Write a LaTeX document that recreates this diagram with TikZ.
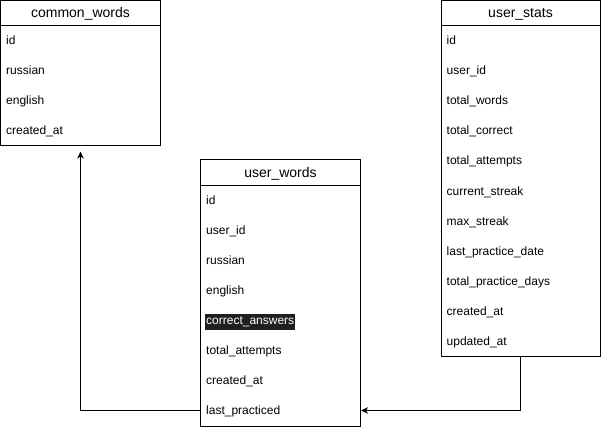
\documentclass[tikz,border=0pt]{standalone}
\usepackage{fontspec}
\setmainfont{Liberation Sans}
\usetikzlibrary{arrows.meta,calc,positioning}
\tikzset{
    tablebox/.style={draw, line width=1pt, inner sep=0pt},
    headtext/.style={font=\fontsize{14}{16}\selectfont},
    fieldtext/.style={anchor=west, inner xsep=1pt, inner ysep=2pt, text height=9pt, text depth=3pt, font=\fontsize{12}{14}\selectfont},
    marked/.style={fill=black!88, text=white},
    link/.style={line width=1pt, -{Stealth[length=7pt,width=6.5pt,inset=2pt]}}
}

\begin{document}
\begin{tikzpicture}[x=1pt,y=-1pt]
    \useasboundingbox (0,0) rectangle (601,430);

    % Draw common_words table.
    \node[tablebox, minimum width=160pt, minimum height=145.5pt] (cw) at (80.5,73.25) {};
    \node[headtext] (cwh) at ($(cw.north)+(0,14)$) {common\_words};
    \draw[line width=1pt] ($(cw.north west)+(0,26)$) -- ($(cw.north east)+(0,26)$);
    \foreach \F [count=\i] in {id,russian,english,created\_at}
        \node[fieldtext] (cw\i) at ($(cw.north west)+(5,12+30*\i)$) {\F};

    % Draw user_words table.
    \node[tablebox, minimum width=160pt, minimum height=266pt] (uw) at (280.5,293) {};
    \node[headtext] (uwh) at ($(uw.north)+(0,14)$) {user\_words};
    \draw[line width=1pt] ($(uw.north west)+(0,26)$) -- ($(uw.north east)+(0,26)$);
    \foreach \F/\S [count=\i] in {id/,user\_id/,russian/,english/,correct\_answers/marked,total\_attempts/,created\_at/,last\_practiced/}
        \node[fieldtext,\S] (uw\i) at ($(uw.north west)+(5,12+30*\i)$) {\F};

    % Draw user_stats table.
    \node[tablebox, minimum width=159pt, minimum height=355.5pt] (us) at (520.5,178.25) {};
    \node[headtext] (ush) at ($(us.north)+(0,14)$) {user\_stats};
    \draw[line width=1pt] ($(us.north west)+(0,26)$) -- ($(us.north east)+(0,26)$);
    \foreach \F [count=\i] in {id,user\_id,total\_words,total\_correct,total\_attempts,current\_streak,max\_streak,last\_practice\_date,total\_practice\_days,created\_at,updated\_at}
        \node[fieldtext] (us\i) at ($(us.north west)+(5,12+30*\i)$) {\F};

    % Draw links between tables.
    \coordinate (cwfoot) at ($(cw.south)+(0,5)$);
    \coordinate (uwfoot) at ($(uw.south)+(0,-16)$);
    \draw[link] (uwfoot -| uw.west) -| (cwfoot);
    \draw[link] (us.south) |- (uwfoot -| uw.east);

\end{tikzpicture}
\end{document}
